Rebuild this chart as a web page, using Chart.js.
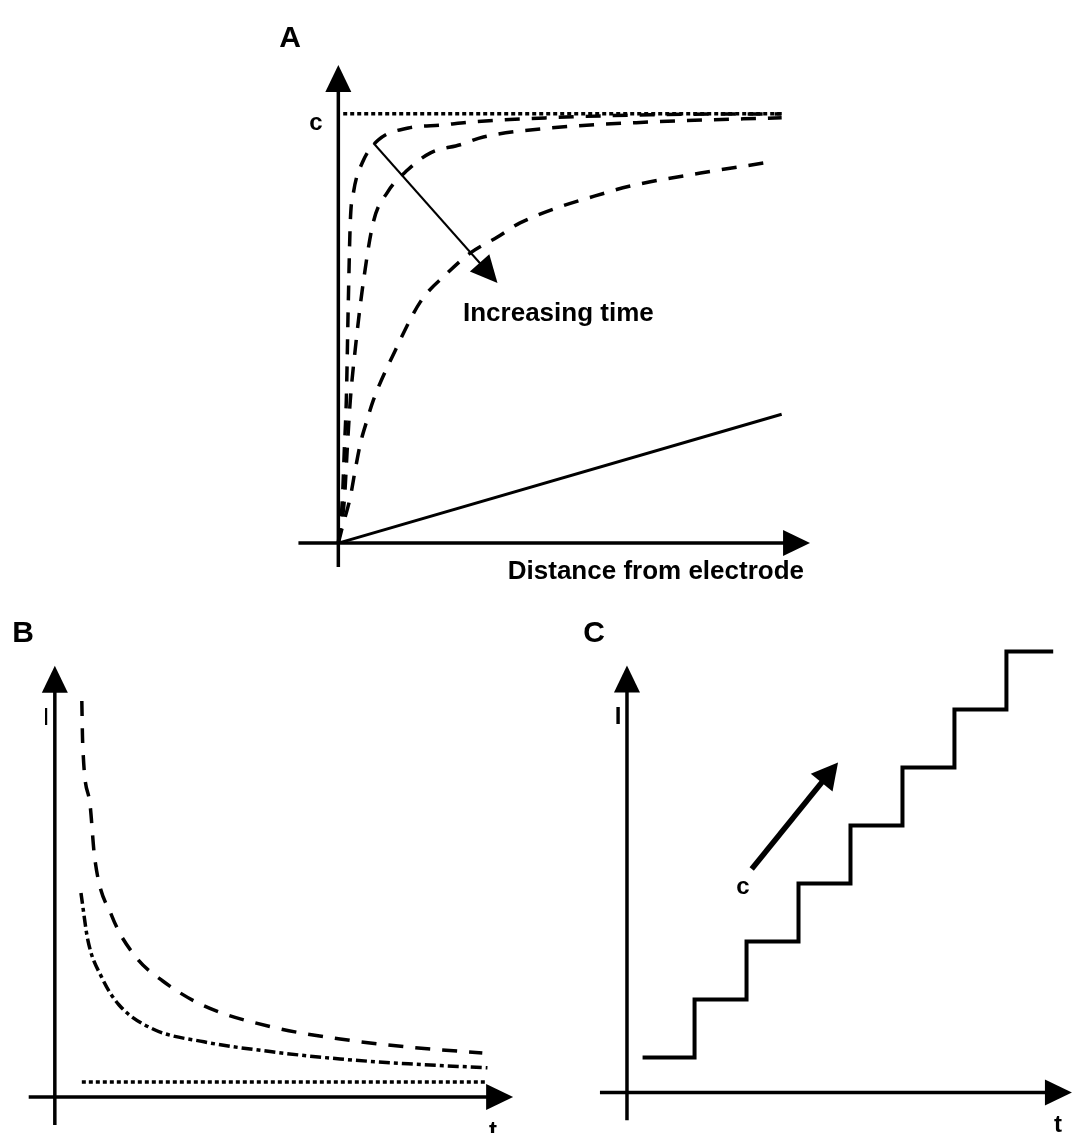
<!DOCTYPE html>
<html>
<head>
<meta charset="utf-8">
<title>Diffusion, chronoamperometry and staircase current</title>
<script src="https://cdn.jsdelivr.net/npm/chart.js@4.4.1/dist/chart.umd.min.js"></script>
<style>
  html, body { margin: 0; padding: 0; background: #fff; }
  body { width: 1072px; height: 1133px; position: relative; overflow: hidden;
         font-family: "Liberation Sans", Arial, sans-serif; color: #000; }
  canvas { position: absolute; }
  .lbl { position: absolute; font-weight: bold; font-size: 26px; line-height: 1;
         white-space: nowrap; transform: translate(-50%, -50%); }
  .panel { font-size: 30px; }
  .left { transform: translate(0, -50%); }
  .right { transform: translate(-100%, -50%); }
</style>
</head>
<body>

<canvas id="chartA" width="532" height="558" style="left:294px;top:28px"></canvas>
<canvas id="chartB" width="514" height="496" style="left:12px;top:637px"></canvas>
<canvas id="chartC" width="499" height="493" style="left:575px;top:640px"></canvas>

<div class="lbl panel" style="left:290px;top:37px">A</div>
<div class="lbl" style="left:316px;top:122px;font-size:24px">c</div>
<div class="lbl left" style="left:463px;top:312px">Increasing time</div>
<div class="lbl right" style="left:804px;top:570px">Distance from electrode</div>

<div class="lbl panel" style="left:23px;top:632px">B</div>
<div class="lbl" style="left:46px;top:717px;font-size:24px;font-weight:normal">I</div>
<div class="lbl" style="left:493px;top:1130px;font-size:24px">t</div>

<div class="lbl panel" style="left:594px;top:632px">C</div>
<div class="lbl" style="left:618px;top:716px;font-size:24px">I</div>
<div class="lbl" style="left:743px;top:886px;font-size:24px">c</div>
<div class="lbl" style="left:1058px;top:1124px;font-size:24px">t</div>

<script>
// ---- Panel A: concentration vs distance from the electrode (c = bulk level 1) ----
const bulkLevelA = [[0.11, 1], [10, 1]];
const linearProfileA = [[0, 0], [10, 0.30]];
const profileShortA = [[0, 0], [0.09, 0.10], [0.135, 0.217], [0.18, 0.333], [0.226, 0.566],
  [0.27, 0.748], [0.34, 0.816], [0.54, 0.886], [0.9, 0.939], [1.58, 0.967], [2.35, 0.974],
  [2.98, 0.981], [4.78, 0.991], [7.04, 0.998], [10, 1.0]];
const profileMidA = [[0, 0], [0.135, 0.10], [0.2, 0.217], [0.27, 0.333], [0.38, 0.45],
  [0.54, 0.59], [0.79, 0.748], [1.1, 0.816], [1.56, 0.869], [2.08, 0.909], [2.75, 0.928],
  [3.27, 0.946], [4.78, 0.967], [7.04, 0.981], [10, 0.991]];
const profileLongA = [[0, 0], [0.09, 0.037], [0.27, 0.107], [0.38, 0.17], [0.5, 0.233],
  [0.65, 0.287], [0.79, 0.333], [1.29, 0.45], [1.85, 0.562], [2.46, 0.629], [2.98, 0.676],
  [3.59, 0.713], [4.1, 0.746], [6.09, 0.818], [6.81, 0.837], [8.17, 0.862], [9.75, 0.888]];
const timeArrowA = [[0.79, 0.932], [3.59, 0.606]];

// ---- Panel B: current vs time after a potential step ----
const currentDashedB = [[0.63, 9.9], [0.65, 8.85], [0.82, 7.33], [0.93, 5.98], [1.33, 4.53],
  [1.89, 3.5], [2.52, 2.9], [3.48, 2.28], [5.07, 1.75], [6.66, 1.45], [8.25, 1.25], [9.98, 1.1]];
const currentDashDotB = [[0.61, 5.1], [0.77, 3.93], [1.1, 2.98], [1.5, 2.3], [2.29, 1.7],
  [3.48, 1.38], [5.07, 1.13], [6.66, 0.95], [8.25, 0.83], [10.1, 0.73]];
const residualB = [[0.63, 0.375], [10.1, 0.375]];

// ---- Panel C: current steps as concentration is raised ----
const stepTimesC = [0.3, 1.3, 2.3, 3.3, 4.3, 5.3, 6.3, 7.3, 8.2];
const stepCurrentsC = [0.6, 1.6, 2.6, 3.6, 4.6, 5.6, 6.6, 7.6, 7.6];
const concArrowC = [[2.4, 3.85], [4.06, 5.69]];

const pts = arr => arr.map(([x, y]) => ({ x, y }));

function drawArrow(ctx, x1, y1, x2, y2, lw, headLen, headHalf) {
  const ang = Math.atan2(y2 - y1, x2 - x1);
  const bx = x2 - headLen * Math.cos(ang), by = y2 - headLen * Math.sin(ang);
  ctx.lineWidth = lw;
  ctx.beginPath();
  ctx.moveTo(x1, y1);
  ctx.lineTo(bx + Math.cos(ang), by + Math.sin(ang));
  ctx.stroke();
  ctx.beginPath();
  ctx.moveTo(x2, y2);
  ctx.lineTo(bx + headHalf * Math.sin(ang), by - headHalf * Math.cos(ang));
  ctx.lineTo(bx - headHalf * Math.sin(ang), by + headHalf * Math.cos(ang));
  ctx.closePath();
  ctx.fill();
}

// axes drawn as arrows through the origin, plus any annotation arrows
const arrowAxes = {
  id: 'arrowAxes',
  afterDatasetsDraw(chart, args, opts) {
    const { ctx } = chart;
    const sx = chart.scales.x, sy = chart.scales.y;
    ctx.save();
    ctx.strokeStyle = '#000';
    ctx.fillStyle = '#000';
    ctx.lineCap = 'butt';
    drawArrow(ctx, sx.getPixelForValue(0), sy.getPixelForValue(opts.y[0]),
      sx.getPixelForValue(0), sy.getPixelForValue(opts.y[1]), 3.5, 27, 13);
    drawArrow(ctx, sx.getPixelForValue(opts.x[0]), sy.getPixelForValue(0),
      sx.getPixelForValue(opts.x[1]), sy.getPixelForValue(0), 3.5, 27, 13);
    (opts.notes || []).forEach(n => {
      drawArrow(ctx, sx.getPixelForValue(n.pts[0][0]), sy.getPixelForValue(n.pts[0][1]),
        sx.getPixelForValue(n.pts[1][0]), sy.getPixelForValue(n.pts[1][1]), n.width, n.head[0], n.head[1]);
    });
    ctx.restore();
  }
};

function options(xr, yr, axes) {
  return {
    responsive: false,
    animation: false,
    events: [],
    layout: { padding: 0 },
    plugins: { legend: { display: false }, tooltip: { enabled: false }, arrowAxes: axes },
    scales: {
      x: { type: 'linear', min: xr[0], max: xr[1], display: false },
      y: { type: 'linear', min: yr[0], max: yr[1], display: false }
    },
    elements: { point: { radius: 0 }, line: { borderColor: '#000', borderCapStyle: 'butt', fill: false } }
  };
}

const dashed = (data, dash, width) => ({
  data: pts(data), borderColor: '#000', borderWidth: width, borderDash: dash,
  cubicInterpolationMode: 'monotone'
});

new Chart(document.getElementById('chartA'), {
  type: 'line',
  data: {
    datasets: [
      dashed(bulkLevelA, [4, 3], 3.5),
      dashed(profileShortA, [15, 12], 3.5),
      dashed(profileMidA, [15, 12], 3.5),
      dashed(profileLongA, [15, 12], 3.5),
      dashed(linearProfileA, [], 3)
    ]
  },
  options: options([-1, 11], [-0.1, 1.2], {
    x: [-0.9, 10.64], y: [-0.056, 1.114],
    notes: [{ pts: timeArrowA, width: 2, head: [27, 13] }]
  }),
  plugins: [arrowAxes]
});

new Chart(document.getElementById('chartB'), {
  type: 'line',
  data: {
    datasets: [
      dashed(currentDashedB, [15, 12], 3.5),
      dashed(currentDashDotB, [11, 4, 4, 4], 3.5),
      dashed(residualB, [4, 3], 3.5)
    ]
  },
  options: options([-1, 11], [-0.9, 11.5], { x: [-0.61, 10.7], y: [-0.7, 10.78] }),
  plugins: [arrowAxes]
});

new Chart(document.getElementById('chartC'), {
  type: 'line',
  data: {
    datasets: [{
      data: stepTimesC.map((t, i) => ({ x: t, y: stepCurrentsC[i] })),
      borderColor: '#000', borderWidth: 4, stepped: true, borderJoinStyle: 'miter'
    }]
  },
  options: options([-1, 8.6], [-0.7, 7.8], {
    x: [-0.52, 8.56], y: [-0.48, 7.36],
    notes: [{ pts: concArrowC, width: 5.5, head: [26, 14] }]
  }),
  plugins: [arrowAxes]
});
</script>
</body>
</html>
